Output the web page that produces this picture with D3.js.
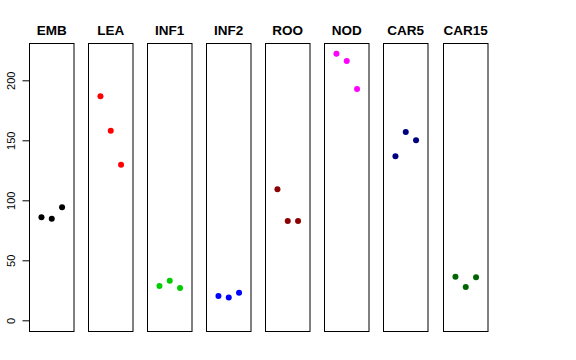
<!DOCTYPE html>
<html><head><meta charset="utf-8">
<script src="https://cdn.jsdelivr.net/npm/d3@7"></script>
<style>body{margin:0;background:#fff}svg{display:block}</style>
</head><body>
<script>
const categories = ["EMB","LEA","INF1","INF2","ROO","NOD","CAR5","CAR15"];
const colors = ["#000000","#FF0000","#00CD00","#0000FF","#8B0000","#FF00FF","#000080","#006400"];
const rep1 = [85.8, 186.7, 28.6, 20.3, 109.2, 222.2, 136.7, 36.4];
const rep2 = [84.7, 158.0, 33.0, 19.1, 82.8, 216.1, 156.9, 27.8];
const rep3 = [94.2, 129.7, 26.9, 23.0, 82.8, 192.8, 150.0, 35.8];
const yTicks = [0, 50, 100, 150, 200];

const W = 576, H = 360;
const svg = d3.select("body").append("svg").attr("width", W).attr("height", H);

const panelTop = 43, panelBottom = 331, panelW = 44.5, firstLeft = 29, step = 59.15;
const y = d3.scaleLinear().domain([-8.9, 231.1]).range([panelBottom, panelTop]);
const band = d3.scaleLinear().domain([0, categories.length]).range([firstLeft, firstLeft + step * categories.length]);

categories.forEach((cat, i) => {
  const left = Math.floor(band(i)) + 0.5;
  const x = d3.scaleLinear().domain([-0.16, 4.16]).range([left, left + panelW]);
  const g = svg.append("g");
  g.append("rect").attr("x", left).attr("y", panelTop + 0.5)
    .attr("width", panelW).attr("height", panelBottom - panelTop)
    .attr("fill", "none").attr("stroke", "#000").attr("stroke-width", 1);
  g.append("text").attr("x", left + panelW / 2).attr("y", 34.5)
    .attr("text-anchor", "middle").attr("font-family", "Liberation Sans, Arial, sans-serif")
    .attr("font-weight", "bold").attr("font-size", 13.5).text(cat);
  const vals = [rep1[i], rep2[i], rep3[i]];
  g.selectAll("circle").data(vals).join("circle")
    .attr("cx", (d, j) => x(j + 1)).attr("cy", d => y(d)).attr("r", 3)
    .attr("fill", colors[i]);
});

// y axis
const axG = svg.append("g").attr("transform", `translate(${firstLeft + 0.5},0)`);
const axis = d3.axisLeft(y).tickValues(yTicks).tickSize(7).tickPadding(5).tickFormat(d3.format("d"));
axG.call(axis);
axG.select(".domain").attr("d", `M0,${y(0)}V${y(200)}`).attr("stroke", "#000");
axG.selectAll(".tick line").attr("stroke", "#000");
axG.selectAll(".tick text")
  .attr("font-family", "Liberation Sans, Arial, sans-serif").attr("font-size", 11).attr("fill", "#000")
  .attr("text-anchor", "middle").attr("x", null).attr("dy", null)
  .attr("transform", "translate(-15,0) rotate(-90)").attr("y", 0);
</script>
</body></html>
